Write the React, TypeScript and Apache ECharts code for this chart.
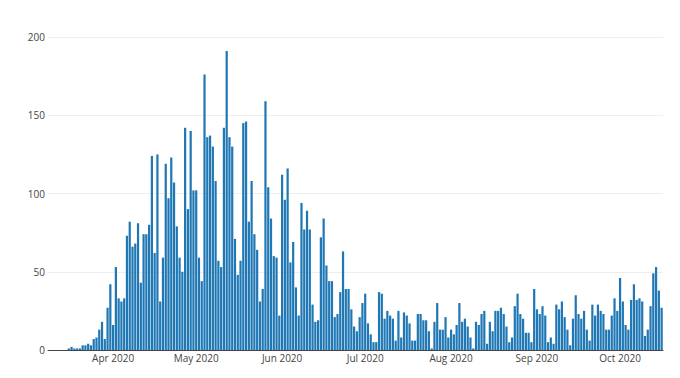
import React, { useEffect, useRef } from "react";
import * as echarts from "echarts";

const startDate = "2020-03-09";
const marValues = [0, 0, 0, 0, 0, 0, 0, 1, 2, 1, 1, 1, 3, 3, 4, 3, 7, 8, 13, 18, 7, 27, 42];
const aprValues = [16, 53, 33, 31, 33, 73, 82, 66, 68, 81, 43, 74, 74, 80, 124, 62, 125, 31, 59, 119, 97, 123, 107, 79, 59, 50, 142, 90, 140, 102];
const mayValues = [102, 59, 44, 176, 136, 137, 130, 108, 57, 53, 142, 191, 136, 130, 71, 48, 57, 145, 146, 82, 108, 74, 64, 31, 39, 159, 104, 84, 60, 59, 22];
const junValues = [112, 96, 116, 56, 69, 40, 22, 94, 77, 89, 77, 29, 18, 19, 72, 84, 54, 44, 44, 21, 23, 37, 63, 39, 39, 26, 15, 12, 21, 30];
const julValues = [36, 17, 10, 5, 5, 37, 36, 20, 25, 22, 20, 6, 25, 8, 24, 22, 17, 6, 6, 23, 23, 19, 19, 12, 1, 18, 30, 13, 13, 21, 8];
const augValues = [13, 10, 16, 30, 18, 20, 15, 8, 1, 18, 16, 23, 25, 4, 18, 12, 25, 25, 27, 23, 15, 5, 8, 28, 36, 23, 20, 11, 11, 5, 39];
const sepValues = [26, 23, 28, 22, 5, 8, 4, 29, 26, 31, 21, 13, 3, 20, 35, 23, 20, 25, 13, 6, 29, 22, 29, 25, 23, 13, 13, 22, 33, 25];
const octValues = [46, 31, 16, 13, 32, 42, 32, 33, 31, 9, 13, 28, 49, 53, 38, 27];
const yTicks = [0, 50, 100, 150, 200];
const monthNames = ["Jan", "Feb", "Mar", "Apr", "May", "Jun", "Jul", "Aug", "Sep", "Oct", "Nov", "Dec"];

const values = [
  ...marValues, ...aprValues, ...mayValues, ...junValues,
  ...julValues, ...augValues, ...sepValues, ...octValues,
];

function buildDates(start: string, n: number): string[] {
  const out: string[] = [];
  const d = new Date(start + "T00:00:00Z");
  for (let i = 0; i < n; i++) {
    const y = d.getUTCFullYear();
    const m = String(d.getUTCMonth() + 1).padStart(2, "0");
    const day = String(d.getUTCDate()).padStart(2, "0");
    out.push(`${y}-${m}-${day}`);
    d.setUTCDate(d.getUTCDate() + 1);
  }
  return out;
}

const dates = buildDates(startDate, values.length);

export default function App() {
  const ref = useRef<HTMLDivElement>(null);
  useEffect(() => {
    if (!ref.current) return;
    const chart = echarts.init(ref.current, undefined, { renderer: "svg" });
    chart.setOption({
      animation: false,
      backgroundColor: "#fff",
      grid: { left: 40, right: 17, top: 29, bottom: 28, containLabel: false },
      xAxis: {
        type: "category",
        data: dates,
        boundaryGap: true,
        axisLine: { show: true, lineStyle: { color: "#444", width: 1 } },
        axisTick: { show: false },
        axisLabel: {
          interval: (idx: number, val: string) => val.endsWith("-01"),
          formatter: (val: string) => {
            const [y, m] = val.split("-");
            return `${monthNames[parseInt(m, 10) - 1]} ${y}`;
          },
          color: "#444",
          fontFamily: "Open Sans",
          fontSize: 10,
          margin: 3,
        },
        splitLine: { show: false },
      },
      yAxis: {
        type: "value",
        min: yTicks[0],
        max: yTicks[yTicks.length - 1],
        interval: 50,
        axisLine: { show: false },
        axisTick: { show: false },
        axisLabel: {
          color: "#444",
          fontFamily: "Open Sans",
          fontSize: 10,
          margin: 3,
        },
        splitLine: { show: true, lineStyle: { color: "#eee", width: 1 } },
      },
      series: [
        {
          type: "bar",
          data: values,
          barCategoryGap: "20%",
          itemStyle: { color: "#1f77b4" },
        },
      ],
    });
    return () => chart.dispose();
  }, []);
  return <div ref={ref} style={{ width: 672, height: 370 }} />;
}
